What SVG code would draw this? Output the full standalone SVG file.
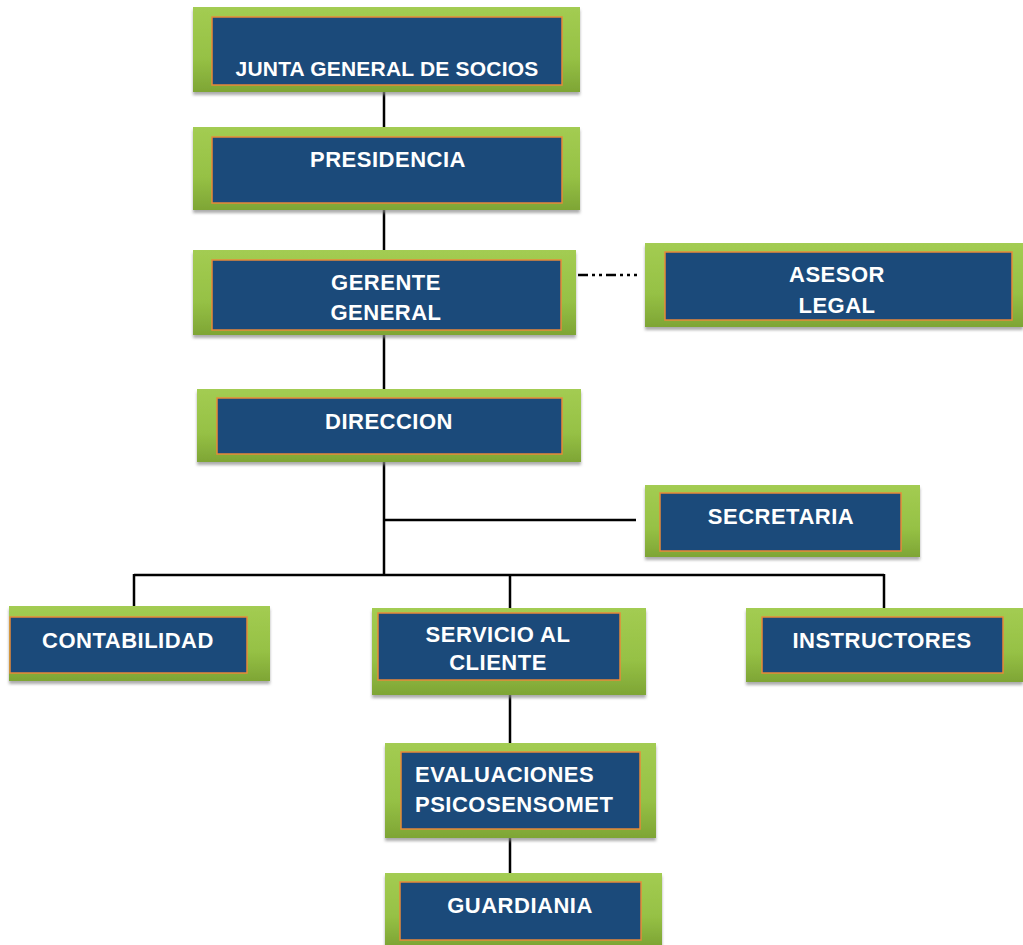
<svg xmlns="http://www.w3.org/2000/svg" width="1023" height="945" viewBox="0 0 1023 945">
<defs>
<linearGradient id="g" x1="0" y1="0" x2="0" y2="1">
<stop offset="0" stop-color="#a3cc52"/>
<stop offset="0.6" stop-color="#96c145"/>
<stop offset="1" stop-color="#7ea535"/>
</linearGradient>
<filter id="sh" x="-5%" y="-5%" width="110%" height="120%">
<feDropShadow dx="0" dy="3" stdDeviation="1.5" flood-color="#888" flood-opacity="0.7"/>
</filter>
</defs>
<style>
.o{fill:url(#g);filter:url(#sh)}
.i{fill:#1b4a7a;stroke:#e8893a;stroke-width:1.5}
.t{font-family:"Liberation Sans",Arial,sans-serif;font-weight:bold;font-size:22px;letter-spacing:0.5px;fill:#fff;text-anchor:middle}
.c{stroke:#000;stroke-width:2.5;fill:none}
</style>
<rect width="1023" height="945" fill="#fff"/>
<g id="connectors">
<path class="c" d="M384 92V127M384 210V250M384 335V389M384 462V575M384 520H636M134 575H884M134 574V606M510 574V608M884 574V608M510 695V743M510 838V873"/>
<path class="c" d="M578 275H637" stroke-dasharray="10 4 3 4 3 4"/>
</g>
<g id="junta"><rect class="o" x="193" y="7" width="387" height="85"/><rect class="i" x="212" y="17" width="350" height="68"/><text class="t" x="387" y="76" style="font-size:21px;letter-spacing:0.2px">JUNTA GENERAL DE SOCIOS</text></g>
<g id="presidencia"><rect class="o" x="193" y="127" width="387" height="83"/><rect class="i" x="212" y="137" width="350" height="66"/><text class="t" x="388" y="167">PRESIDENCIA</text></g>
<g id="gerente"><rect class="o" x="193" y="250" width="383" height="85"/><rect class="i" x="212" y="260" width="349" height="70"/><text class="t" x="386" y="290">GERENTE</text><text class="t" x="386" y="320">GENERAL</text></g>
<g id="asesor"><rect class="o" x="645" y="243" width="378" height="84"/><rect class="i" x="665" y="252" width="347" height="68"/><text class="t" x="837" y="282">ASESOR</text><text class="t" x="837" y="313">LEGAL</text></g>
<g id="direccion"><rect class="o" x="197" y="389" width="384" height="73"/><rect class="i" x="217" y="398" width="345" height="56"/><text class="t" x="389" y="429">DIRECCION</text></g>
<g id="secretaria"><rect class="o" x="645" y="485" width="275" height="72"/><rect class="i" x="660" y="493" width="241" height="58"/><text class="t" x="781" y="524">SECRETARIA</text></g>
<g id="contabilidad"><rect class="o" x="9" y="606" width="261" height="75"/><rect class="i" x="10" y="617" width="237" height="56"/><text class="t" x="128" y="648">CONTABILIDAD</text></g>
<g id="servicio"><rect class="o" x="372" y="608" width="274" height="87"/><rect class="i" x="378" y="613" width="242" height="67"/><text class="t" x="498" y="642">SERVICIO AL</text><text class="t" x="498" y="670">CLIENTE</text></g>
<g id="instructores"><rect class="o" x="746" y="608" width="277" height="74"/><rect class="i" x="762" y="617" width="241" height="56"/><text class="t" x="882" y="648">INSTRUCTORES</text></g>
<g id="evaluaciones"><rect class="o" x="385" y="743" width="271" height="95"/><rect class="i" x="401" y="752" width="239" height="77"/><text class="t" x="415" y="782" style="text-anchor:start">EVALUACIONES</text><text class="t" x="415" y="812" style="text-anchor:start">PSICOSENSOMET</text></g>
<g id="guardiania"><rect class="o" x="385" y="873" width="277" height="72"/><rect class="i" x="400" y="882" width="241" height="58"/><text class="t" x="520" y="913">GUARDIANIA</text></g>
</svg>
